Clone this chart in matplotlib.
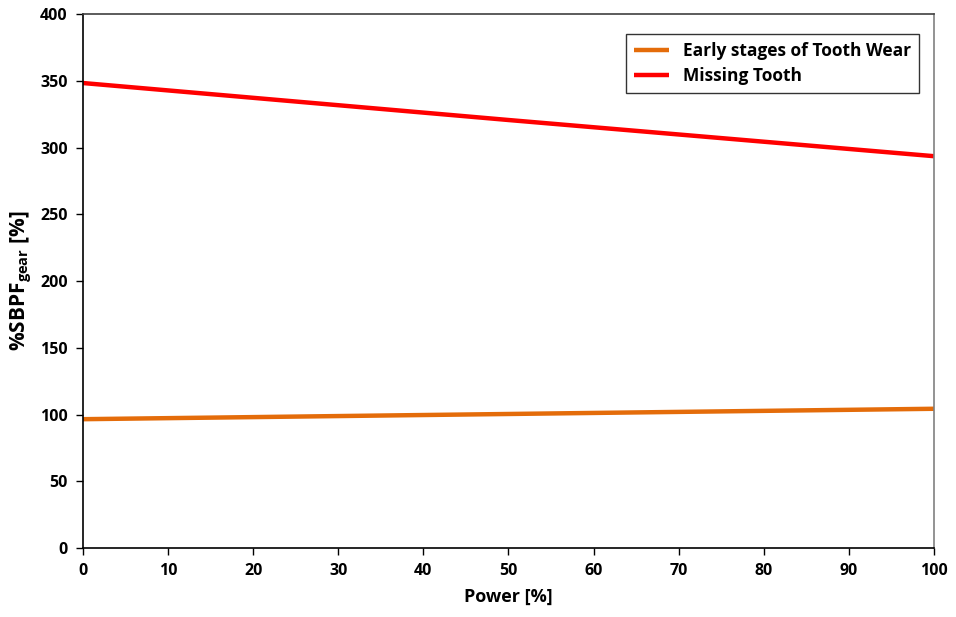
import matplotlib
matplotlib.use("Agg")
from matplotlib import pyplot as plt

# data
power = [0, 50, 100]
tooth_wear = [96.5, 100.4, 104.3]
missing_tooth = [348.3, 320.6, 293.5]
labels = ["Early stages of Tooth Wear", "Missing Tooth"]
xticks = list(range(0, 101, 10))
yticks = list(range(0, 401, 50))

plt.rcParams['font.family'] = ['Open Sans', 'DejaVu Sans']
plt.rcParams['font.weight'] = 'bold'
plt.rcParams['mathtext.fontset'] = 'custom'
plt.rcParams['mathtext.rm'] = 'Open Sans:bold'
plt.rcParams['mathtext.it'] = 'Open Sans:bold'
plt.rcParams['mathtext.bf'] = 'Open Sans:bold'

fig = plt.figure(figsize=(9.56, 6.17), dpi=100)
ax = fig.add_axes([0.0868, 0.1118, 0.8902, 0.8655])

ax.plot(power, tooth_wear, color='#E46C0A', lw=3.2, label=labels[0], solid_capstyle='butt')
ax.plot(power, missing_tooth, color='#FF0000', lw=3.2, label=labels[1], solid_capstyle='butt')

ax.set_xlim(0, 100)
ax.set_ylim(0, 400)
ax.set_xticks(xticks)
ax.set_yticks(yticks)
ax.tick_params(direction='out', length=5, width=1, labelsize=11.5, pad=6)
for lab in ax.get_xticklabels() + ax.get_yticklabels():
    lab.set_fontweight('bold')

ax.spines['left'].set_color('black')
ax.spines['bottom'].set_color('black')
ax.spines['top'].set_color('#404040')
ax.spines['right'].set_color('#808080')
for s in ax.spines.values():
    s.set_linewidth(1.2)

ax.set_xlabel('Power [%]', fontsize=13, fontweight='bold', labelpad=6)
ax.set_ylabel(r'%SBPF$_\mathrm{gear}$ [%]', fontsize=15, fontweight='bold', labelpad=4)

leg = ax.legend(loc='upper right', bbox_to_anchor=(0.992, 0.978), fontsize=12.5,
                frameon=True, fancybox=False, edgecolor='black', handlelength=2.0,
                borderpad=0.45, labelspacing=0.4)
leg.get_frame().set_linewidth(1.0)
for t in leg.get_texts():
    t.set_fontweight('bold')

fig.savefig('out.png', dpi=100)
